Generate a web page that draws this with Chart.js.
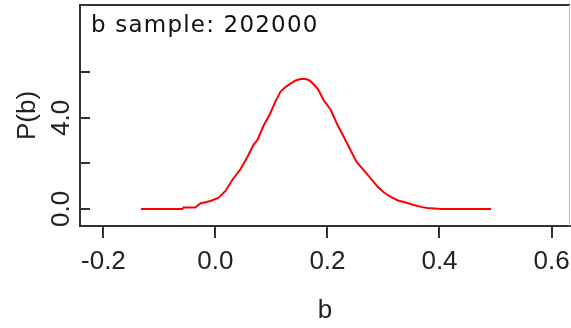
<!DOCTYPE html>
<html>
<head>
<meta charset="utf-8">
<script src="https://cdn.jsdelivr.net/npm/chart.js@4/dist/chart.umd.min.js"></script>
<style>
  html, body { margin: 0; padding: 0; background: #fff; }
  #wrap { position: relative; width: 571px; height: 328px; }
</style>
</head>
<body>
<div id="wrap"><canvas id="densityChart" width="571" height="328"></canvas></div>
<script>
const bValues = [
  -0.133, -0.099, -0.059, -0.057, -0.036, -0.027, -0.009, 0.005, 0.018, 0.030,
  0.045, 0.057, 0.068, 0.075, 0.086, 0.098, 0.107, 0.116, 0.125, 0.134,
  0.143, 0.152, 0.161, 0.168, 0.175, 0.183, 0.193, 0.206, 0.218, 0.229,
  0.242, 0.252, 0.265, 0.278, 0.290, 0.301, 0.313, 0.326, 0.338, 0.353,
  0.367, 0.378, 0.403, 0.439, 0.492
];
const densityValues = [
  0.0, 0.0, 0.0, 0.06, 0.06, 0.24, 0.35, 0.48, 0.79, 1.27,
  1.75, 2.28, 2.81, 3.03, 3.66, 4.20, 4.71, 5.14, 5.35, 5.50,
  5.64, 5.70, 5.70, 5.64, 5.48, 5.26, 4.78, 4.34, 3.68, 3.17,
  2.54, 2.06, 1.69, 1.32, 0.96, 0.72, 0.53, 0.37, 0.29, 0.18,
  0.09, 0.04, 0.0, 0.0, 0.0
];
const xTicks = [-0.2, 0.0, 0.2, 0.4, 0.6];
const yTicks = [0, 2, 4, 6];
const yLabelled = [0, 4];
const sampleText = 'b sample: 202000';

const tickFont = { family: "'Liberation Sans', Arial, sans-serif", size: 26 };

// box around the plot + sample count in the top-left corner
const frameAndLabel = {
  id: 'frameAndLabel',
  afterDraw(chart) {
    const { ctx, chartArea } = chart;
    ctx.save();
    ctx.strokeStyle = '#333';
    ctx.lineWidth = 2;
    ctx.beginPath();
    ctx.moveTo(chartArea.left, chartArea.top);
    ctx.lineTo(chartArea.right, chartArea.top);
    ctx.stroke();
    ctx.strokeStyle = '#bbb';
    ctx.lineWidth = 1;
    ctx.beginPath();
    ctx.moveTo(chartArea.right - 0.5, chartArea.top);
    ctx.lineTo(chartArea.right - 0.5, chartArea.bottom);
    ctx.stroke();
    ctx.fillStyle = '#111';
    ctx.font = "23px 'DejaVu Sans', sans-serif";
    ctx.letterSpacing = '1.2px';
    ctx.textBaseline = 'alphabetic';
    ctx.textAlign = 'left';
    ctx.fillText(sampleText, chartArea.left + 11, chartArea.top + 27);
    ctx.restore();
  }
};

new Chart(document.getElementById('densityChart'), {
  type: 'line',
  data: {
    datasets: [{
      data: bValues.map((b, i) => ({ x: b, y: densityValues[i] })),
      borderColor: '#ff0000',
      borderWidth: 2,
      pointRadius: 0,
      tension: 0,
      fill: false
    }]
  },
  options: {
    responsive: false,
    animation: false,
    devicePixelRatio: 1,
    layout: { padding: { top: 5, right: 1, left: 0, bottom: 0 } },
    plugins: { legend: { display: false }, tooltip: { enabled: false } },
    scales: {
      x: {
        type: 'linear',
        min: -0.2418,
        max: 0.633,
        afterBuildTicks: (s) => { s.ticks = xTicks.map(v => ({ value: v })); },
        afterFit: (s) => { s.height = 102; s.paddingLeft = 0; s.paddingRight = 0; },
        border: { display: true, color: '#333', width: 2 },
        grid: { drawOnChartArea: false, drawTicks: true, tickLength: 12, color: '#333', lineWidth: 2 },
        ticks: {
          color: '#222',
          font: tickFont,
          padding: 8,
          maxRotation: 0,
          callback: (v) => v.toFixed(1)
        },
        title: {
          display: true,
          text: 'b',
          color: '#222',
          font: tickFont,
          padding: { top: 0, bottom: 2 }
        }
      },
      y: {
        type: 'linear',
        min: -0.75,
        max: 8.95,
        afterBuildTicks: (s) => { s.ticks = yTicks.map(v => ({ value: v })); },
        afterFit: (s) => { s.width = 80; s.paddingTop = 0; s.paddingBottom = 0; },
        border: { display: true, color: '#333', width: 2 },
        grid: { drawOnChartArea: false, drawTicks: true, tickLength: -10, color: '#333', lineWidth: 2 },
        ticks: {
          color: '#222',
          font: tickFont,
          minRotation: 90,
          maxRotation: 90,
          crossAlign: 'center',
          padding: 10,
          callback: (v) => yLabelled.includes(v) ? v.toFixed(1) : ''
        },
        title: {
          display: true,
          text: 'P(b)',
          color: '#222',
          font: tickFont,
          padding: { top: 12, bottom: 0 }
        }
      }
    }
  },
  plugins: [frameAndLabel]
});
</script>
</body>
</html>
